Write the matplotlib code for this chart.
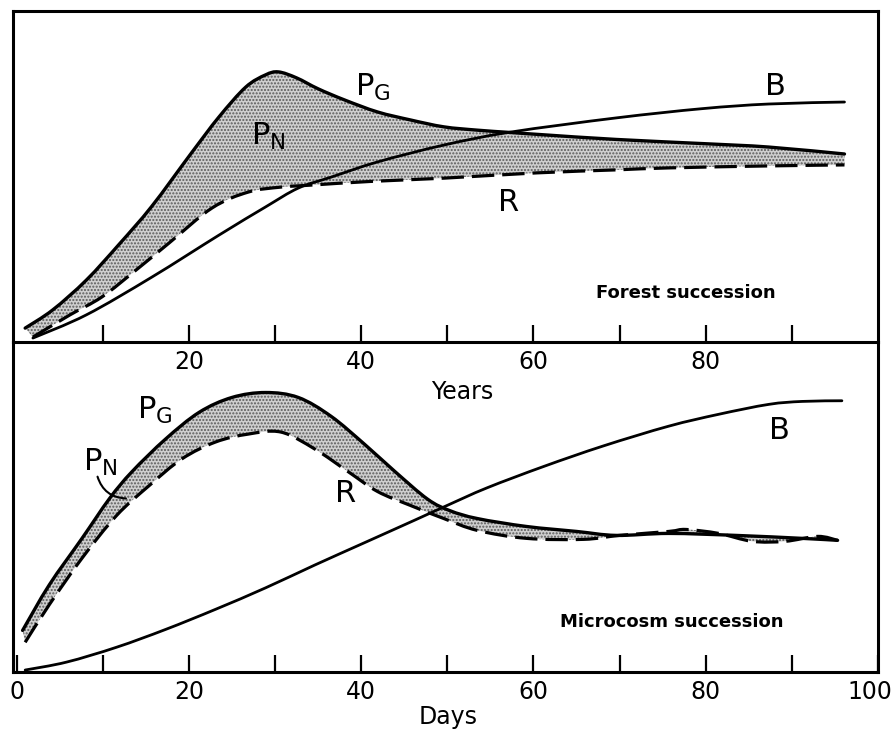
import matplotlib.pyplot as plt
import matplotlib.transforms as mtransforms
from matplotlib.path import Path
from matplotlib.patches import PathPatch
import numpy as np

# forest succession (years), y in arbitrary units 0-100
forest_pg_x = [1.0, 4.2, 8.1, 11.9, 15.7, 20.3, 23.5, 26.6, 28.9, 30.4, 32.5, 35.0, 38.1, 41.9, 45.7, 49.6, 53.5, 57.3, 61.2, 69.6, 80.0, 87.3, 96.1]
forest_pg_y = [4.2, 9.7, 18.7, 29.5, 41.0, 57.1, 68.0, 77.0, 80.7, 81.6, 79.8, 76.5, 73.1, 69.5, 67.1, 65.0, 64.0, 63.3, 62.6, 61.2, 59.9, 58.9, 56.8]
forest_r_x = [1.9, 6.2, 9.9, 13.9, 17.7, 22.7, 26.9, 30.7, 34.2, 41.0, 49.6, 60.4, 69.6, 75.7, 87.3, 96.1]
forest_r_y = [1.5, 8.2, 13.6, 21.8, 29.9, 40.5, 45.3, 46.8, 47.4, 48.5, 49.5, 51.1, 52.0, 52.6, 53.2, 53.5]
forest_b_x = [1.9, 8.1, 15.7, 23.5, 28.9, 32.7, 36.5, 41.9, 49.6, 57.3, 69.6, 79.6, 87.3, 96.1]
forest_b_y = [1.2, 8.2, 19.6, 32.3, 40.8, 46.5, 49.8, 54.4, 59.5, 63.4, 67.7, 70.5, 71.9, 72.5]

# microcosm succession (days)
micro_pg_x = [0.7, 3.8, 7.6, 10.8, 13.4, 17.3, 21.2, 25.0, 28.9, 32.7, 36.5, 40.4, 43.9, 47.7, 50.3, 53.5, 59.2, 65.0, 69.6, 75.7, 83.5, 91.2, 95.3]
micro_pg_y = [12.6, 26.4, 40.5, 52.6, 60.7, 70.6, 78.7, 83.2, 84.7, 83.2, 77.5, 69.0, 60.8, 52.4, 48.9, 46.5, 44.1, 42.6, 41.4, 42.0, 41.4, 40.5, 39.9]
micro_r_x = [1.0, 3.8, 7.6, 11.6, 15.4, 19.2, 23.1, 26.9, 30.7, 34.6, 38.5, 41.9, 45.7, 49.6, 53.5, 59.2, 65.8, 70.0, 75.7, 77.7, 81.5, 85.4, 89.2, 93.0, 95.3]
micro_r_y = [9.0, 20.4, 34.5, 47.4, 56.5, 64.6, 69.7, 72.1, 72.7, 67.6, 60.7, 54.7, 50.5, 46.5, 42.9, 40.5, 40.2, 41.4, 42.6, 43.2, 42.0, 39.6, 39.6, 41.1, 39.9]
micro_b_x = [1.0, 5.8, 11.6, 17.3, 23.1, 28.9, 34.6, 40.4, 46.2, 50.0, 54.6, 61.2, 68.1, 75.7, 81.5, 87.3, 91.2, 95.8]
micro_b_y = [0.6, 3.0, 7.5, 12.9, 19.0, 25.5, 32.4, 39.2, 46.0, 50.5, 55.8, 62.3, 68.5, 74.5, 78.1, 81.1, 82.0, 82.2]

top_major = [20, 40, 60, 80]
top_minor = [10, 30, 50, 70, 90]
bot_major = [0, 20, 40, 60, 80, 100]
bot_minor = [10, 30, 50, 70, 90]

fig = plt.figure(figsize=(8.92, 7.33), dpi=100)
ax1 = fig.add_axes([0.0142, 0.5334, 0.9702, 0.4516])
ax2 = fig.add_axes([0.0142, 0.0832, 0.9702, 0.4502])
ax2.set_facecolor('none')

dash = (7, 2.5)


def curve(x, y):
    # smooth cubic path through the read points (Catmull-Rom as Bezier)
    p = np.column_stack([x, y])
    n = len(p)
    verts = [p[0]]
    codes = [Path.MOVETO]
    for i in range(n - 1):
        p0 = p[max(i - 1, 0)]
        p1, p2 = p[i], p[i + 1]
        p3 = p[min(i + 2, n - 1)]
        verts += [p1 + (p2 - p0) / 6, p2 - (p3 - p1) / 6, p2]
        codes += [Path.CURVE4] * 3
    return verts, codes


def panel(ax, pgx, pgy, rx, ry, bx, by):
    v1, c1 = curve(pgx, pgy)
    v2, c2 = curve(rx[::-1], ry[::-1])
    c2 = [Path.LINETO] + c2[1:]
    band = Path(v1 + v2 + [v1[0]], c1 + c2 + [Path.CLOSEPOLY])
    ax.add_patch(PathPatch(band, facecolor='#cfcfcf', edgecolor='#5a5a5a',
                           hatch='.....', linewidth=0, zorder=1))
    v, c = curve(pgx, pgy)
    ax.add_patch(PathPatch(Path(v, c), fill=False, lw=2.4, capstyle='round', zorder=3))
    v, c = curve(rx, ry)
    ax.add_patch(PathPatch(Path(v, c), fill=False, lw=2.3, linestyle=(0, dash), zorder=3))
    v, c = curve(bx, by)
    ax.add_patch(PathPatch(Path(v, c), fill=False, lw=2.0, capstyle='round', zorder=3))
    ax.set_xlim(-0.45, 100)
    ax.set_ylim(0, 100)
    ax.set_yticks([])
    for s in ax.spines.values():
        s.set_linewidth(2.2)
    ax.tick_params(axis='x', which='both', direction='in', length=12, width=1.6,
                   labelsize=17, pad=6, top=False)


panel(ax1, forest_pg_x, forest_pg_y, forest_r_x, forest_r_y, forest_b_x, forest_b_y)
panel(ax2, micro_pg_x, micro_pg_y, micro_r_x, micro_r_y, micro_b_x, micro_b_y)

ax1.set_xticks(top_major)
ax1.set_xticks(top_minor, minor=True)
ax1.set_xticklabels([str(v) for v in top_major])
ax2.set_xticks(bot_major)
ax2.set_xticks(bot_minor, minor=True)
ax2.set_xticklabels([str(v) for v in bot_major])
ax2.spines['top'].set_visible(False)

ax1.set_xlabel('Years', fontsize=17)
ax1.xaxis.set_label_coords(0.52, -0.115)
ax2.set_xlabel('Days', fontsize=17)
ax2.xaxis.set_label_coords(0.503, -0.1)

lab = dict(fontsize=22, ha='center', va='center')
ax1.text(41.3, 77, r'$\mathregular{P_G}$', **lab)
ax1.text(29.2, 62, r'$\mathregular{P_N}$', **lab)
ax1.text(88.1, 77.3, 'B', **lab)
ax1.text(57.1, 42, 'R', **lab)
ax1.text(77.7, 14.8, 'Forest succession', fontsize=13, fontweight='semibold',
         ha='center', va='center')

ax2.text(16.0, 79.3, r'$\mathregular{P_G}$', **lab)
ax2.text(9.7, 63.4, r'$\mathregular{P_N}$', **lab)
ax2.text(88.6, 73.3, 'B', **lab)
ax2.text(38.2, 54, 'R', **lab)
ax2.text(76.0, 15.3, 'Microcosm succession', fontsize=13, fontweight='semibold',
         ha='center', va='center')
ax2.annotate('', xy=(12.7, 52.6), xytext=(9.4, 59.2),
             arrowprops=dict(arrowstyle='-', lw=1.5, color='black',
                             connectionstyle='arc3,rad=0.35', shrinkA=0, shrinkB=0))

# nudge the last day label so it stays on the page
last = ax2.xaxis.get_major_ticks()[-1].label1
last.set_transform(last.get_transform() +
                   mtransforms.ScaledTranslation(-0.08, 0, fig.dpi_scale_trans))

fig.savefig('out.png', dpi=100)
